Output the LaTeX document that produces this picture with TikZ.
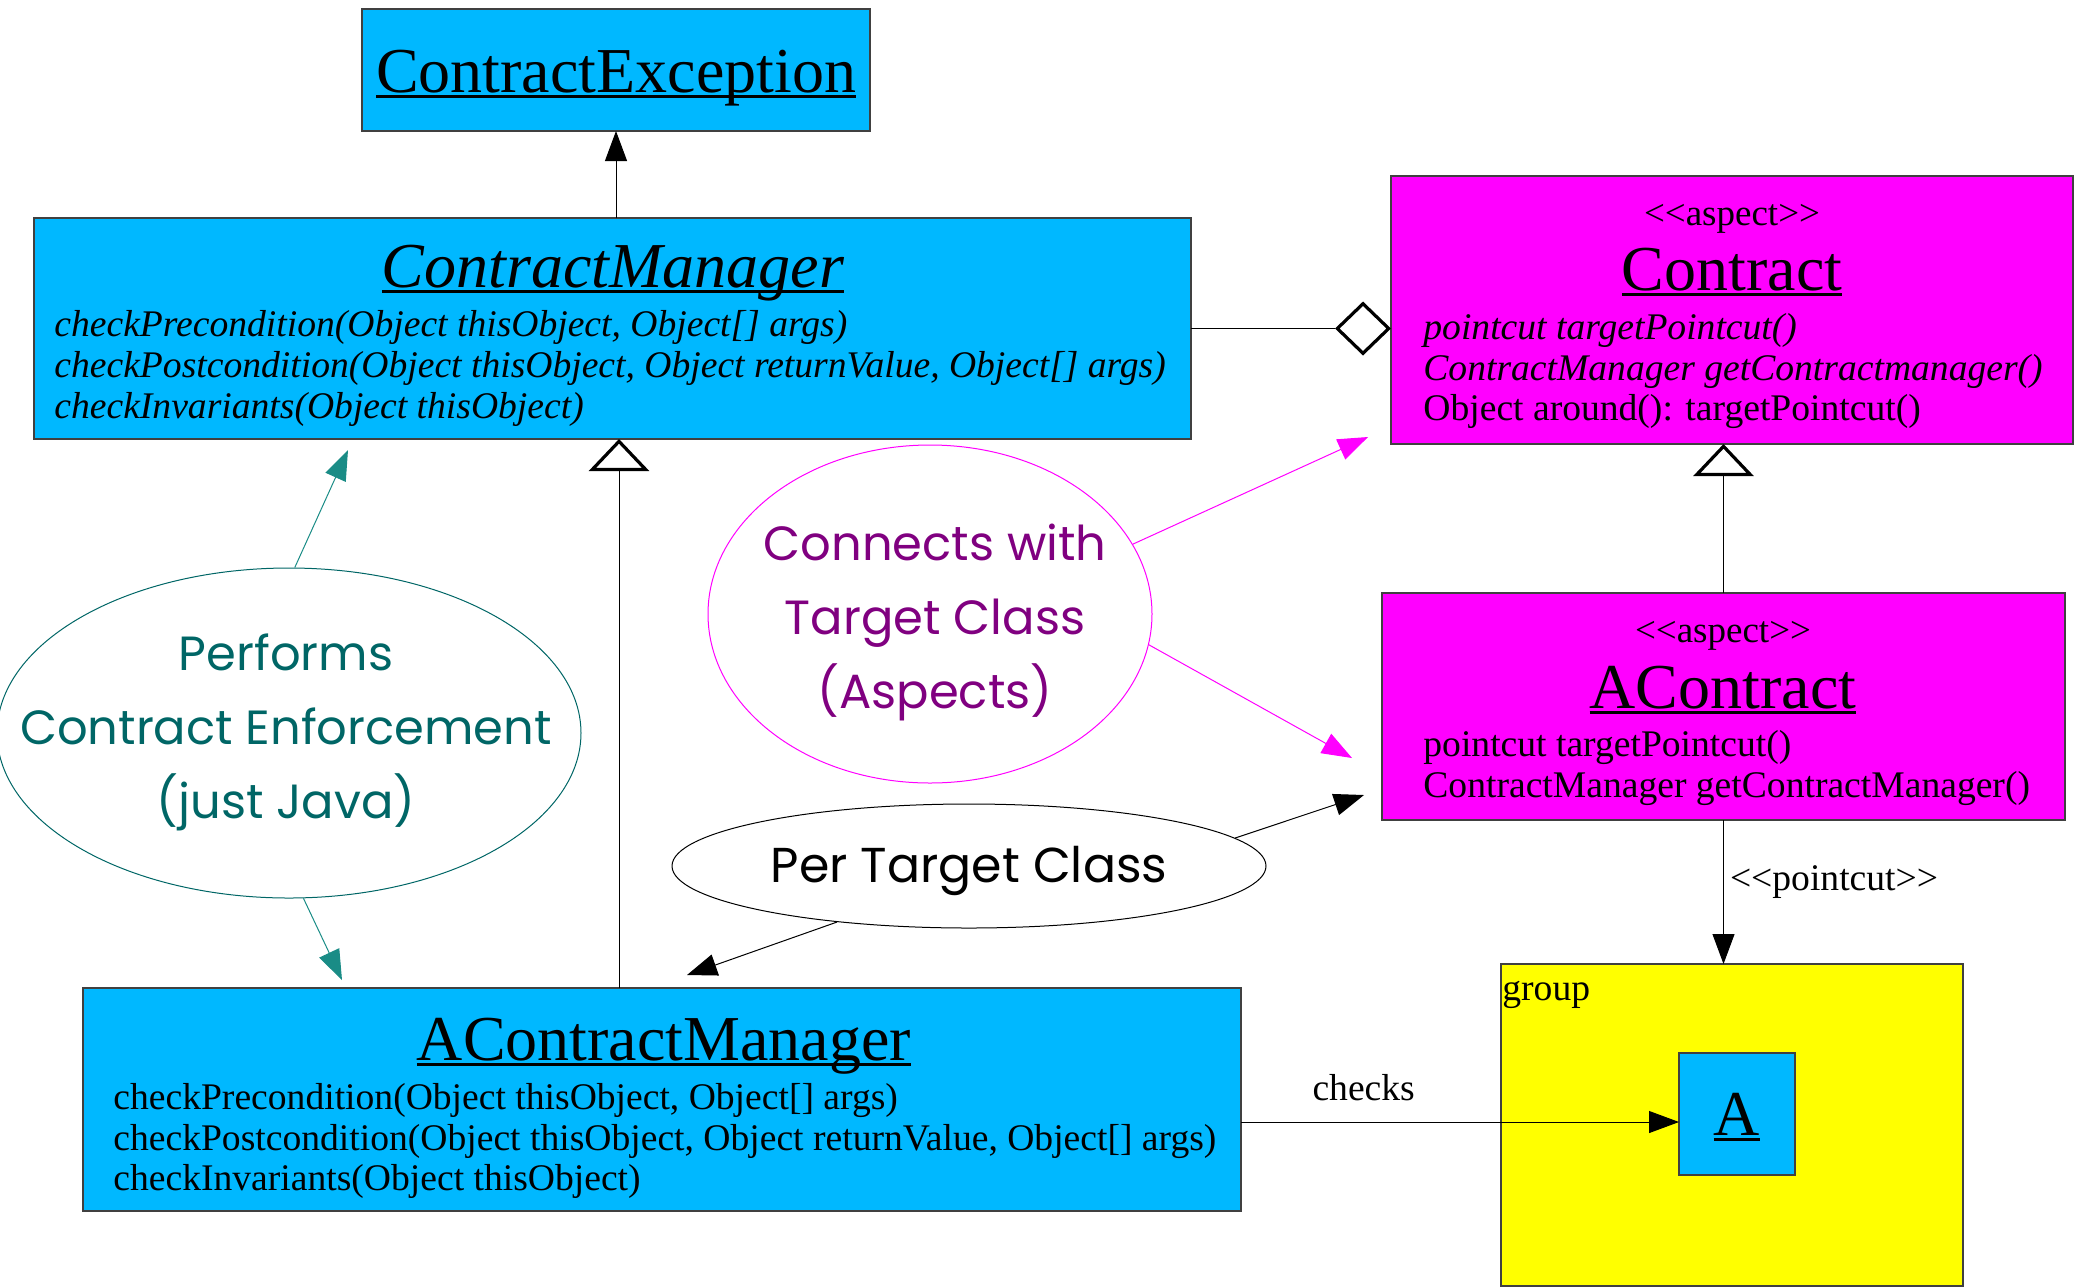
\documentclass[tikz,border=0pt]{standalone}
\usepackage{fontspec}
\setmainfont{Liberation Serif}
\newfontfamily\notefont{Poppins}
\usepackage{tikz}
\usetikzlibrary{arrows.meta,shapes.geometric}
\definecolor{umlBlue}{RGB}{0,184,255}
\definecolor{umlPink}{RGB}{255,0,255}
\definecolor{umlYellow}{RGB}{255,255,0}
\definecolor{tealText}{RGB}{0,102,102}
\definecolor{tealLine}{RGB}{26,140,134}
\definecolor{purpleText}{RGB}{128,0,128}
\newcommand{\stereo}[1]{<\kern0pt<#1>\kern0pt>}
\newsavebox{\ulbox}
\newcommand{\ulname}[1]{\sbox{\ulbox}{#1}\rlap{\rule[-3.1pt]{\wd\ulbox}{1.6pt}}\usebox{\ulbox}}

\begin{document}
\begin{tikzpicture}[x=0.5pt, y=-0.5pt,
		classbox/.style={rectangle, draw=black!75, line width=0.6pt, fill=umlBlue, inner sep=0pt, outer sep=0pt, anchor=north west},
		titletext/.style={font=\fontsize{32}{38}\selectfont, inner sep=0pt, anchor=base},
		membertext/.style={font=\fontsize{18.8}{22}\selectfont, inner sep=0pt, anchor=base west},
		stereotext/.style={font=\fontsize{18.5}{22}\selectfont, inner sep=0pt, anchor=base},
		noteshape/.style={ellipse, line width=0.5pt, inner sep=0pt},
		notetext/.style={font=\notefont\fontsize{24}{37}\selectfont, align=center, inner sep=0pt},
		blackarrow/.style={draw=black, line width=0.5pt, -{Triangle[length=15pt, width=11pt]}},
		tealarrow/.style={draw=tealLine, line width=0.5pt, -{Triangle[length=15pt, width=11pt]}},
		pinkarrow/.style={draw=umlPink, line width=0.5pt, -{Triangle[length=15pt, width=11pt]}},
		inherit/.style={draw=black, line width=0.5pt, -{Triangle[fill=white, length=16pt, width=30pt, line width=1.6pt]}},
		aggregation/.style={draw=black, line width=0.5pt, -{Diamond[fill=white, length=28pt, width=27pt, line width=1.6pt]}}]
		\useasboundingbox (0,0) rectangle (2077,1287);
		
		% Classes
		\begin{scope}[every node/.style={classbox}]
			\node[minimum width=254pt, minimum height=61pt] (ce) at (362,9) {};
			\node[minimum width=578.5pt, minimum height=110.5pt] (cm) at (34,218) {};
			\node[minimum width=579pt, minimum height=111.5pt] (acm) at (83,988) {};
		\end{scope}
		\begin{scope}[every node/.style={classbox, fill=umlPink}]
			\node[minimum width=341pt, minimum height=134pt] (cont) at (1391,176) {};
			\node[minimum width=341.5pt, minimum height=113.5pt] (acon) at (1382,593) {};
		\end{scope}
		\node[classbox, fill=umlYellow, minimum width=231pt, minimum height=161pt] (grp) at (1501,964) {};
		\node[classbox, minimum width=58pt, minimum height=61pt] (a) at (1679,1053) {};
		
		% Class names
		\node[titletext] (cetitle) at (616,92) {\ulname{ContractException}};
		\node[titletext, font=\fontsize{32}{38}\selectfont\itshape] (cmtitle) at (613,287) {\ulname{ContractManager}};
		\node[titletext] (acmtitle) at (664,1060) {\ulname{AContractManager}};
		\node[titletext] (conttitle) at (1732,290) {\ulname{Contract}};
		\node[titletext] (acontitle) at (1723,708) {\ulname{AContract}};
		\node[titletext] (atitle) at (1737,1135) {\ulname{A}};
		\node[stereotext] (contstereo) at (1732,225) {\stereo{aspect}};
		\node[stereotext] (aconstereo) at (1723,642) {\stereo{aspect}};
		\node[membertext] (grplabel) at (1502,1000) {group};
		
		% Members
		\begin{scope}[every node/.style={membertext, font=\fontsize{18.8}{22}\selectfont\itshape}]
			\node (cm1) at (54,336) {checkPrecondition(Object thisObject, Object[] args)};
			\node (cm2) at (54,377) {checkPostcondition(Object thisObject, Object returnValue, Object[] args)};
			\node (cm3) at (54,418) {checkInvariants(Object thisObject)};
			\node (cont1) at (1423,339) {pointcut targetPointcut()};
			\node (cont2) at (1423,380) {ContractManager getContractmanager()};
		\end{scope}
		\begin{scope}[every node/.style={membertext}]
			\node (cont3) at (1423,420) {Object around(): targetPointcut()};
			\node (acon1) at (1423,756) {pointcut targetPointcut()};
			\node (acon2) at (1423,797) {ContractManager getContractManager()};
			\node (acm1) at (113,1109) {checkPrecondition(Object thisObject, Object[] args)};
			\node (acm2) at (113,1150) {checkPostcondition(Object thisObject, Object returnValue, Object[] args)};
			\node (acm3) at (113,1190) {checkInvariants(Object thisObject)};
		\end{scope}
		
		% Notes
		\node[noteshape, draw=tealText, minimum width=292pt, minimum height=165pt] (perf) at (289,733) {};
		\node[noteshape, draw=umlPink, minimum width=222pt, minimum height=169pt] (conn) at (930,614) {};
		\node[noteshape, draw=black, minimum width=297pt, minimum height=62pt] (ptc) at (969,866) {};
		\node[notetext, text=tealText] (perftext) at (286,732) {Performs\\Contract Enforcement\\(just Java)};
		\node[notetext, text=purpleText] (conntext) at (935,622) {Connects with\\Target Class\\(Aspects)};
		\node[notetext, font=\notefont\fontsize{24.5}{37}\selectfont] (ptctext) at (969,871) {Per Target Class};
		
		% Arrow ends
		\coordinate (cmhint) at (348,450);
		\coordinate (acmhint) at (342,980);
		\coordinate (conthint) at (1368,437);
		\coordinate (aconhint) at (1352,758);
		\coordinate (aconptc) at (1364,795);
		\coordinate (acmptc) at (687,975);
		
		% Relations
		\draw[blackarrow] (ce.south |- cm.north) -- (ce.south);
		\draw[aggregation] (cm.east) -- (cm.east -| cont.west);
		\draw[inherit] ([xshift=3.25pt]cm.south |- acm.north) -- ([xshift=3.25pt]cm.south);
		\draw[inherit] (acon.north) -- (acon.north |- cont.south);
		\draw[blackarrow] (acon.south) -- (acon.south |- grp.north)
			node[membertext, pos=0.43, anchor=west, xshift=3pt] (pclabel) {\stereo{pointcut}};
		\draw[blackarrow] ([yshift=-4pt]a.west -| acm.east) -- ([yshift=-4pt]a.west)
			node[membertext, pos=0.28, anchor=base, yshift=11pt] (chklabel) {checks};
		
		% Note arrows
		\draw[tealarrow] (perf.88) -- (cmhint);
		\draw[tealarrow] (perf.-85) -- (acmhint);
		\draw[pinkarrow] (conn.19) -- (conthint);
		\draw[pinkarrow] (conn.-8) -- (aconhint);
		\draw[blackarrow] (ptc.6) -- (aconptc);
		\draw[blackarrow] (ptc.203) -- (acmptc);
	\end{tikzpicture}
\end{document}
